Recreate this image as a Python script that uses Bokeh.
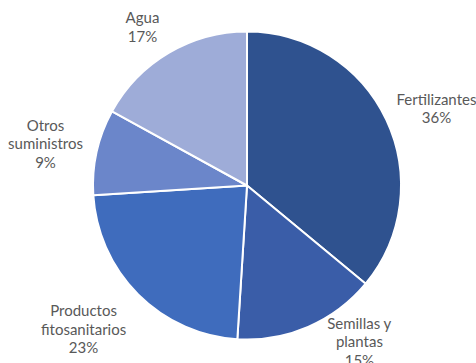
import numpy as np
from bokeh.plotting import figure
from bokeh.models import ColumnDataSource, Range1d
from bokeh.core.properties import value
from bokeh.embed import file_html
from bokeh.resources import INLINE

# ---- data ----
categories = ["Fertilizantes", "Semillas y\nplantas", "Productos\nfitosanitarios", "Otros\nsuministros", "Agua"]
shares = [36, 15, 23, 9, 17]
colors = ["#2F528F", "#3A5DA8", "#3F6CBD", "#6B86CA", "#9EACD8"]

# ---- layout ----
W, H = 476, 363
cx, cy, R = 246.5, 178.0, 154
label_r = 200
nudges = [(8.5, -7.7), (33, 27.6), (-22, -1.6), (-6.3, -1.6), (-2.7, -13.1)]

p = figure(width=W, height=H, x_range=Range1d(0, W), y_range=Range1d(0, H),
           output_backend="svg", toolbar_location=None, min_border=0)
p.axis.visible = False
p.grid.visible = False
p.outline_line_color = None
p.background_fill_color = "white"

frac = np.array(shares, dtype=float) / sum(shares)
cum = np.concatenate([[0.0], np.cumsum(frac)])
start = np.pi / 2 - 2 * np.pi * cum[:-1]
end = np.pi / 2 - 2 * np.pi * cum[1:]
mid = (start + end) / 2

src = ColumnDataSource(dict(start=start, end=end, color=colors))
p.wedge(x=cx, y=cy, radius=R, radius_units="screen", start_angle="start", end_angle="end",
        direction="clock", fill_color="color", line_color="white", line_width=2, source=src)

labels = [f"{c}\n{s}%" for c, s in zip(categories, shares)]
lx = [cx + label_r * np.cos(m) + n[0] for m, n in zip(mid, nudges)]
ly = [cy + label_r * np.sin(m) + n[1] for m, n in zip(mid, nudges)]
p.text(x=lx, y=ly, text=labels, text_font=value("Lato"), text_font_size="15px",
       text_color="#595959", text_align="center", text_baseline="middle", text_line_height=1.05)

open("out.html", "w").write(file_html(p, INLINE))
